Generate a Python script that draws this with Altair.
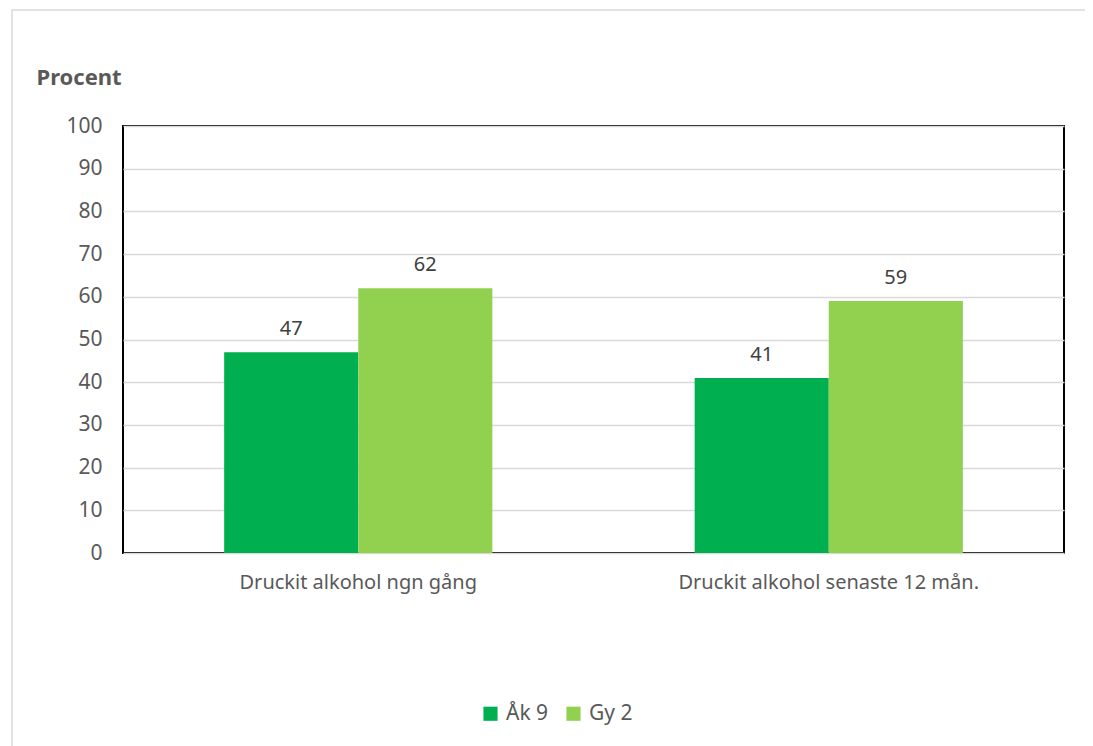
import altair as alt
import pandas as pd

categories = ["Druckit alkohol ngn gång", "Druckit alkohol senaste 12 mån."]
series = ["Åk 9", "Gy 2"]
ak9 = [47, 41]
gy2 = [62, 59]
colors = ["#00B050", "#92D050"]
y_ticks = [0, 10, 20, 30, 40, 50, 60, 70, 80, 90, 100]

rows = []
for i, c in enumerate(categories):
    rows.append({"kategori": c, "grupp": series[0], "värde": ak9[i]})
    rows.append({"kategori": c, "grupp": series[1], "värde": gy2[i]})
df = pd.DataFrame(rows)

FONT = "Noto Sans"
TXT = "#595959"

x = alt.X("kategori:N", sort=categories, title=None,
          scale=alt.Scale(paddingInner=0.43, paddingOuter=0.215),
          axis=alt.Axis(labelAngle=0, ticks=False, domain=False, labelPadding=19,
                        labelFontSize=20, labelColor=TXT, labelFont=FONT, labelLimit=0,
                        grid=False))
xo = alt.XOffset("grupp:N", sort=series, scale=alt.Scale(paddingInner=0, paddingOuter=0))
y = alt.Y("värde:Q", scale=alt.Scale(domain=[0, 100], nice=False),
          axis=alt.Axis(values=y_ticks, ticks=False, domain=False, labelPadding=21,
                        labelFontSize=21, labelColor=TXT, labelFont=FONT,
                        gridColor="#D9D9D9", gridWidth=1.5,
                        title="Procent", titleAngle=0, titleAlign="left", titleBaseline="alphabetic",
                        titleX=-87, titleY=-42, titleFontSize=22, titleFontWeight="bold",
                        titleColor=TXT, titleFont=FONT))

frame = alt.Chart(pd.DataFrame({"a": [0]})).mark_rect(
    fill=None, stroke="#D9D9D9", strokeWidth=1.5
).encode(x=alt.value(-111), x2=alt.value(966), y=alt.value(-116), y2=alt.value(640))

bars = alt.Chart(df).mark_bar().encode(
    x=x, xOffset=xo, y=y,
    color=alt.Color("grupp:N", sort=series, scale=alt.Scale(domain=series, range=colors),
                    legend=alt.Legend(title=None, orient="none", direction="horizontal",
                                      legendX=357, legendY=577, symbolType="square",
                                      symbolSize=200, symbolStrokeWidth=0, labelFontSize=21,
                                      labelColor=TXT, labelFont=FONT, columnPadding=14,
                                      labelOffset=5))
)

labels = alt.Chart(df).mark_text(dy=-23, fontSize=20, color="#404040", font=FONT).encode(
    x=alt.X("kategori:N", sort=categories), xOffset=alt.XOffset("grupp:N", sort=series),
    y="värde:Q", text="värde:Q"
)

chart = alt.layer(frame, bars, labels).properties(
    width=941, height=427,
    autosize=alt.AutoSizeParams(type="none"),
    padding={"left": 115, "top": 118, "right": 21, "bottom": 200},
    background="white",
).configure_view(stroke="black", strokeWidth=2)

chart.save("out.html", embed_options={"renderer": "svg", "actions": False})
